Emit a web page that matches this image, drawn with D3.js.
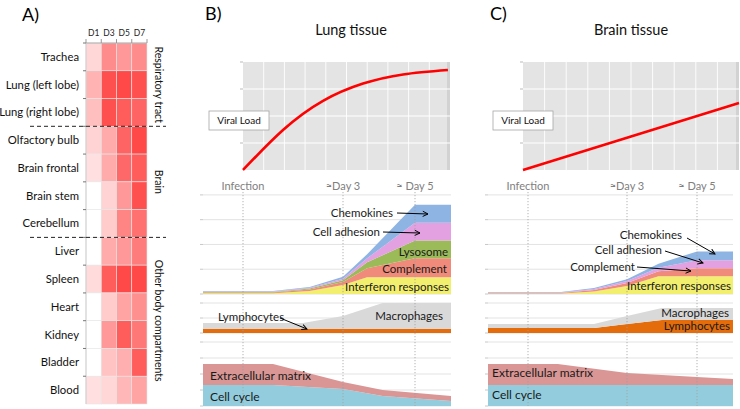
<!DOCTYPE html>
<html><head><meta charset="utf-8">
<script src="https://cdn.jsdelivr.net/npm/d3@7"></script>
<style>body{margin:0;background:#fff} svg{display:block} text{font-family:Lato,"Open Sans",sans-serif}</style>
</head><body><svg id="c" width="740" height="409"></svg>
<script>
// ---------- Panel A data ----------
const tissues = ["Trachea","Lung (left lobe)","Lung (right lobe)","Olfactory bulb","Brain frontal","Brain stem","Cerebellum","Liver","Spleen","Heart","Kidney","Bladder","Blood"];
const dayCols = ["D1","D3","D5","D7"];
const heatValues = [
 [0.20,0.58,0.52,0.58],
 [0.38,0.88,0.92,0.88],
 [0.32,0.88,0.82,0.78],
 [0.22,0.42,0.78,0.92],
 [0.16,0.42,0.76,0.82],
 [0.00,0.22,0.52,0.88],
 [0.00,0.26,0.62,0.72],
 [0.00,0.42,0.52,0.66],
 [0.18,0.82,0.92,0.92],
 [0.00,0.26,0.46,0.56],
 [0.00,0.52,0.82,0.68],
 [0.00,0.30,0.40,0.82],
 [0.16,0.20,0.36,0.46]];
const groupNames = ["Respiratory tract","Brain","Other body compartments"];
const groupSizes = [3,4,6];

// ---------- Panels B/C data ----------
const timeMarkers = [0,3,5];
const timeMarkerLabels = ["Infection","\u2248Day 3","\u2248 Day 5"];

const lungViralDays = [0,1.16,2.32,3.48,4.64,5.94];
const lungViralLoad = [0,37,64,80,88.5,92.6];
const brainViralDays = [0,3,6];
const brainViralLoad = [0,31,62];

const lungImmuneDays = [-1.2,0.9,2.0,3.0,3.67,5.0,6.0];
const lungInterferon = [0.8,0.8,3,9,17,17,17];
const lungComplement = [0.6,0.6,1.5,3,9,19,19];
const lungLysosome = [0.5,0.5,1,2,6,18,18];
const lungAdhesion = [0.5,0.5,0.7,1.5,4,18,18];
const lungChemokines = [0.6,0.6,0.8,2,4,18,18];

const brainImmuneDays = [-1.2,1.0,2.0,3.0,3.9,5.0,6.0];
const brainInterferon = [0.6,0.6,2.5,8,18,18,18];
const brainComplement = [0.5,0.5,1.5,3,5,8,8];
const brainAdhesion = [0.5,0.5,1,2,3.5,8,8];
const brainChemokines = [0.5,0.5,1,2,4,9,9];

const lungCellDays = [-1.2,1.8,3,4.1,6];
const lungLymphocytes = [4,4,4,4,4];
const lungMacrophages = [6,6,13,26,26];
const brainCellDays = [-1.2,2,3,4,6];
const brainLymphocytes = [5,5,9,13,13];
const brainMacrophages = [4,4,8,12,12];

const lungTissueDays = [-1.2,0.9,3,4.1,6];
const lungCellCycle = [21,21,17,10,5];
const lungECM = [21,21,7,6,5];
const brainTissueDays = [-1.2,0.9,3,5,6];
const brainCellCycle = [21,21,21,21,21];
const brainECM = [21,21,12,8,6];

const colors = {
  "Interferon responses":"#f3ef6e","Complement":"#f08b7b","Lysosome":"#9bbb59",
  "Cell adhesion":"#e3a1e1","Chemokines":"#8eb4e3",
  "Lymphocytes":"#e46c0a","Macrophages":"#d9d9d9",
  "Cell cycle":"#93cddd","Extracellular matrix":"#d99694"
};

const svg = d3.select("#c");
const defs = svg.append("defs");
defs.append("marker").attr("id","arr").attr("viewBox","0 0 8 8").attr("refX",7).attr("refY",4)
  .attr("markerWidth",7).attr("markerHeight",7).attr("markerUnits","userSpaceOnUse").attr("orient","auto")
  .append("path").attr("d","M1,1 L7,4 L1,7").attr("fill","none").attr("stroke","#000").attr("stroke-width",1.1);

// ---------- Panel A ----------
(function(){
  const g = svg.append("g");
  g.append("text").attr("x",22).attr("y",21).attr("font-size",18).text("A)");
  const x = d3.scaleBand().domain(dayCols).range([86,147]);
  const y = d3.scaleBand().domain(tissues).range([43,404]);
  const col = d3.scaleLinear().domain([0,1]).range(["#ffffff","#ff3838"]);
  tissues.forEach((t,i)=>{
    dayCols.forEach((d,j)=>{
      g.append("rect").attr("x",x(d)).attr("y",y(t)).attr("width",x.bandwidth()).attr("height",y.bandwidth())
        .attr("fill",col(heatValues[i][j])).attr("stroke","#e6e6e6").attr("stroke-width",0.6);
    });
    g.append("text").attr("x",79).attr("y",y(t)+y.bandwidth()/2).attr("dy","0.35em")
      .attr("text-anchor","end").attr("font-size",11.3).attr("fill","#111").text(t);
  });
  dayCols.forEach(d=>{
    g.append("text").attr("x",x(d)+x.bandwidth()/2).attr("y",36).attr("text-anchor","middle")
      .attr("font-size",8.5).attr("fill","#222").text(d);
  });
  g.append("line").attr("x1",86).attr("x2",147).attr("y1",43).attr("y2",43).attr("stroke","#aaa");
  g.append("line").attr("x1",86).attr("x2",86).attr("y1",43).attr("y2",404).attr("stroke","#ccc");
  dayCols.concat([null]).forEach(d=>{
    const xx = d? x(d) : 147;
    g.append("line").attr("x1",xx).attr("x2",xx).attr("y1",39).attr("y2",43).attr("stroke","#999");
  });
  tissues.forEach(t=>{
    g.append("line").attr("x1",83).attr("x2",86).attr("y1",y(t)).attr("y2",y(t)).attr("stroke","#777");
  });
  let start = 0;
  groupNames.forEach((name,k)=>{
    const y0 = y(tissues[start]);
    const endIdx = start + groupSizes[k];
    const y1 = endIdx < tissues.length ? y(tissues[endIdx]) : 404;
    g.append("text").attr("transform",`translate(155,${(y0+y1)/2}) rotate(90)`)
      .attr("text-anchor","middle").attr("font-size",10.5).attr("fill","#111").text(name);
    if (endIdx < tissues.length) {
      g.append("line").attr("x1",30).attr("x2",166).attr("y1",y1).attr("y2",y1)
        .attr("stroke","#222").attr("stroke-width",1).attr("stroke-dasharray","4,3");
    }
    start = endIdx;
  });
})();

// ---------- Panels B / C ----------
function tissuePanel(cfg){
  const g = svg.append("g");
  g.append("text").attr("x",cfg.labelX).attr("y",20).attr("font-size",18).text(cfg.letter);
  g.append("text").attr("x",cfg.titleX).attr("y",35).attr("text-anchor","middle").attr("font-size",14.5).attr("fill","#111").text(cfg.title);

  const vx = d3.scaleLinear().domain([0,6]).range(cfg.viralX);
  const vy = d3.scaleLinear().domain([0,100]).range([170,62]);
  g.append("rect").attr("x",cfg.viralX[0]).attr("y",62).attr("width",cfg.viralX[1]-cfg.viralX[0]).attr("height",108).attr("fill","#e4e4e4");
  g.append("rect").attr("x",cfg.viralX[1]-3).attr("y",62).attr("width",3).attr("height",108).attr("fill","#d2d2d2");
  d3.range(0.6,5.9,0.6).forEach(d=>{
    g.append("line").attr("x1",vx(d)).attr("x2",vx(d)).attr("y1",62).attr("y2",170).attr("stroke","#fff").attr("stroke-width",0.9);
  });
  [25,50,75].forEach(v=>{
    g.append("line").attr("x1",cfg.viralX[0]).attr("x2",cfg.viralX[1]).attr("y1",vy(v)).attr("y2",vy(v)).attr("stroke","#fff").attr("stroke-width",1.2);
  });
  [25,50,75,100].forEach(v=>{
    g.append("line").attr("x1",cfg.viralX[0]-3).attr("x2",cfg.viralX[0]).attr("y1",vy(v)).attr("y2",vy(v)).attr("stroke","#bbb");
  });
  const vline = d3.line().x((d,i)=>vx(cfg.viralDays[i])).y(d=>vy(d)).curve(d3.curveNatural);
  g.append("path").attr("d",vline(cfg.viralLoad)).attr("fill","none").attr("stroke","#ff0000").attr("stroke-width",2.6);
  g.append("rect").attr("x",cfg.vlBox).attr("y",111).attr("width",60).attr("height",19).attr("fill","#fff").attr("stroke","#a6a6a6").attr("stroke-width",0.8);
  g.append("text").attr("x",cfg.vlBox+30).attr("y",124).attr("text-anchor","middle").attr("font-size",10).attr("fill","#111").text("Viral Load");

  const x = d3.scaleLinear().domain([-1.2,0,3,5,6]).range(cfg.timeRange);
  const xL = cfg.timeRange[0], xR = cfg.timeRange[4];

  const yImm = d3.scaleLinear().domain([0,110]).range([294,185]);
  const yCell = d3.scaleLinear().domain([0,35]).range([333,298]);
  const yTis = d3.scaleLinear().domain([0,66]).range([406,340]);

  const grid = [[yImm,[25,50,75,100,0]],[yCell,[15,30,0]],[yTis,[16,32,48,64,0]]];
  grid.forEach(([sc,vals])=>{
    vals.forEach(v=>{
      g.append("line").attr("x1",xL).attr("x2",xR).attr("y1",sc(v)).attr("y2",sc(v)).attr("stroke","#e3e3e3").attr("stroke-width",1);
      g.append("line").attr("x1",xL-3).attr("x2",xL).attr("y1",sc(v)).attr("y2",sc(v)).attr("stroke","#c8c8c8");
    });
  });

  function stacked(days, seriesNames, seriesVals, yS){
    const rows = days.map((d,i)=>{ const o={day:d}; seriesNames.forEach((n,k)=>o[n]=seriesVals[k][i]); return o; });
    const st = d3.stack().keys(seriesNames)(rows);
    const area = d3.area().x(d=>x(d.data.day)).y0(d=>yS(d[0])).y1(d=>yS(d[1]));
    g.selectAll(null).data(st).enter().append("path").attr("d",area).attr("fill",d=>colors[d.key]);
  }
  stacked(cfg.immDays, cfg.immNames, cfg.immVals, yImm);
  stacked(cfg.cellDays, ["Lymphocytes","Macrophages"], cfg.cellVals, yCell);
  stacked(cfg.tisDays, ["Cell cycle","Extracellular matrix"], cfg.tisVals, yTis);

  timeMarkers.forEach((d,i)=>{
    g.append("line").attr("x1",x(d)).attr("x2",x(d)).attr("y1",192).attr("y2",406)
      .attr("stroke","#a0a0a0").attr("stroke-width",0.8).attr("stroke-dasharray","1.2,1.8");
    g.append("text").attr("x",x(d)).attr("y",190).attr("text-anchor","middle").attr("font-size",11).attr("fill","#808080").text(timeMarkerLabels[i]);
  });

  cfg.labels.forEach(l=>{
    g.append("text").attr("x",l.x).attr("y",l.y).attr("text-anchor",l.anchor||"end").attr("font-size",l.size||11.5).attr("fill","#1a1a1a").text(l.t);
    if (l.arrow) g.append("line").attr("x1",l.arrow[0]).attr("y1",l.arrow[1]).attr("x2",l.arrow[2]).attr("y2",l.arrow[3])
      .attr("stroke","#000").attr("stroke-width",1).attr("marker-end","url(#arr)");
  });
}

tissuePanel({
  letter:"B)", labelX:205, title:"Lung tissue", titleX:351,
  viralX:[243,450], vlBox:209, viralDays:lungViralDays, viralLoad:lungViralLoad,
  timeRange:[203,243,343,415,451],
  immDays:lungImmuneDays,
  immNames:["Interferon responses","Complement","Lysosome","Cell adhesion","Chemokines"],
  immVals:[lungInterferon,lungComplement,lungLysosome,lungAdhesion,lungChemokines],
  cellDays:lungCellDays, cellVals:[lungLymphocytes,lungMacrophages],
  tisDays:lungTissueDays, tisVals:[lungCellCycle,lungECM],
  labels:[
    {t:"Chemokines",x:393,y:217,arrow:[397,213,428,214]},
    {t:"Cell adhesion",x:380,y:236,arrow:[383,232,420,233]},
    {t:"Lysosome",x:448,y:256},
    {t:"Complement",x:447,y:273},
    {t:"Interferon responses",x:449,y:291},
    {t:"Lymphocytes",x:218,y:321,anchor:"start",arrow:[280,318,307,329]},
    {t:"Macrophages",x:443,y:320},
    {t:"Extracellular matrix",x:210,y:380,anchor:"start",size:12},
    {t:"Cell cycle",x:210,y:401,anchor:"start",size:12}
  ]
});

tissuePanel({
  letter:"C)", labelX:490, title:"Brain tissue", titleX:631,
  viralX:[523,739], vlBox:493, viralDays:brainViralDays, viralLoad:brainViralLoad,
  timeRange:[488,528,627,697,733],
  immDays:brainImmuneDays,
  immNames:["Interferon responses","Complement","Cell adhesion","Chemokines"],
  immVals:[brainInterferon,brainComplement,brainAdhesion,brainChemokines],
  cellDays:brainCellDays, cellVals:[brainLymphocytes,brainMacrophages],
  tisDays:brainTissueDays, tisVals:[brainCellCycle,brainECM],
  labels:[
    {t:"Chemokines",x:682,y:239,arrow:[687,238,715,254]},
    {t:"Cell adhesion",x:662,y:254,arrow:[665,251,703,263]},
    {t:"Complement",x:635,y:271,arrow:[637,267,691,271]},
    {t:"Interferon responses",x:731,y:290},
    {t:"Macrophages",x:729,y:317},
    {t:"Lymphocytes",x:730,y:330},
    {t:"Extracellular matrix",x:492,y:377,anchor:"start",size:12},
    {t:"Cell cycle",x:492,y:399,anchor:"start",size:12}
  ]
});
</script></body></html>
